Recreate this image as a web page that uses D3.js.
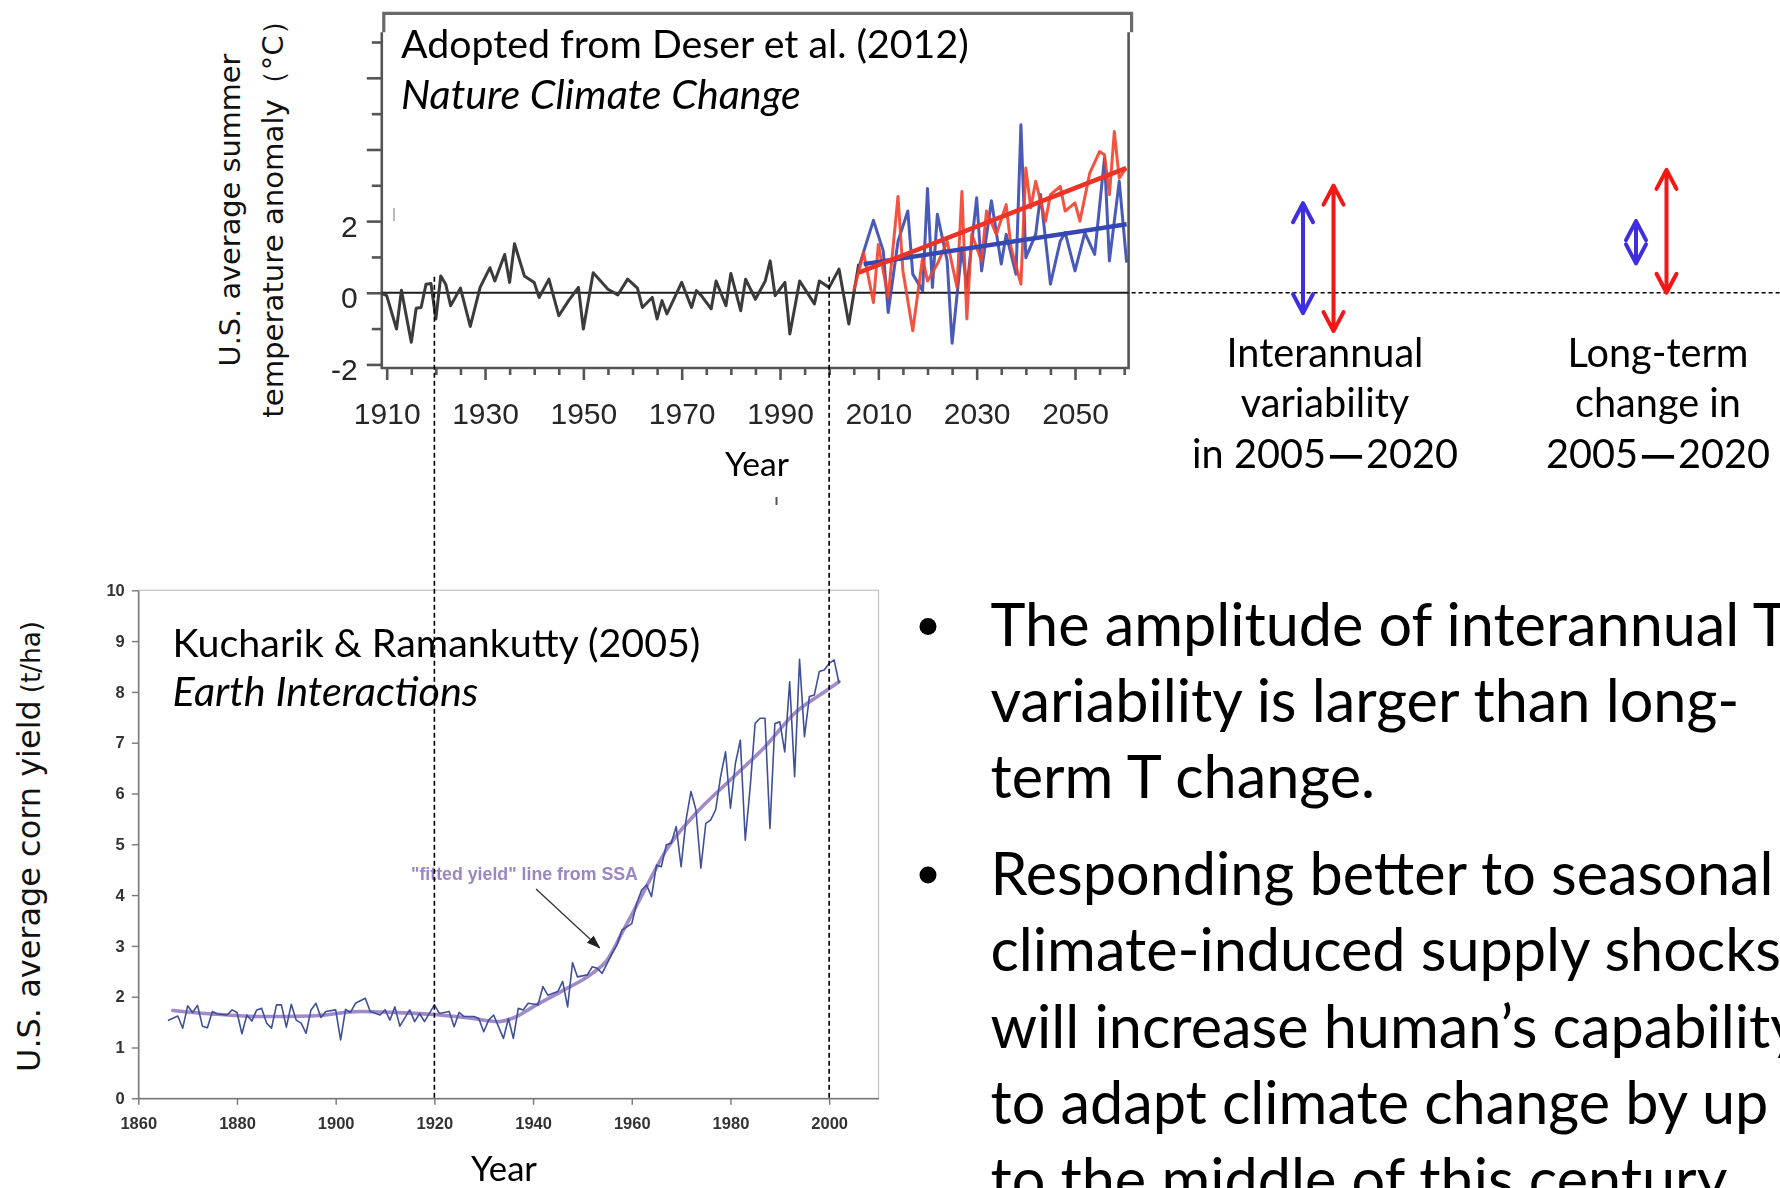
<!DOCTYPE html>
<html>
<head>
<meta charset="utf-8">
<title>Temperature variability and U.S. corn yield</title>
<script src="https://cdn.jsdelivr.net/npm/d3@7/dist/d3.min.js"></script>
<style>
  html, body { margin: 0; padding: 0; background: #ffffff; overflow: hidden; }
  svg { display: block; }
</style>
</head>
<body>
<svg id="fig" width="1780" height="1188"></svg>
<script>
// ---------- data ----------
// U.S. average summer temperature anomaly (°C): observed record
const observedTemp = [
  [1909,-0.02],[1910,-0.08],[1912,-1.01],[1913,0.07],[1915,-1.38],[1916,-0.43],[1917,-0.41],
  [1918,0.24],[1919,0.26],[1920,-0.73],[1921,0.47],[1922,0.24],[1923,-0.36],[1925,0.13],
  [1927,-0.94],[1929,0.15],[1931,0.70],[1932,0.33],[1934,1.07],[1935,0.29],[1936,1.37],
  [1938,0.47],[1940,0.29],[1941,-0.13],[1943,0.38],[1945,-0.64],[1947,-0.22],[1949,0.15],
  [1950,-1.01],[1952,0.56],[1955,0.10],[1957,-0.06],[1959,0.38],[1961,0.13],[1962,-0.41],
  [1964,-0.13],[1965,-0.73],[1966,-0.22],[1967,-0.59],[1970,0.29],[1972,-0.41],[1973,0.06],
  [1974,-0.08],[1976,-0.45],[1977,0.33],[1979,-0.36],[1980,0.54],[1982,-0.50],[1983,0.38],
  [1985,-0.18],[1987,0.33],[1988,0.89],[1989,-0.08],[1991,0.29],[1992,-1.15],[1994,0.33],
  [1997,-0.31],[1998,0.33],[2000,0.15],[2002,0.66],[2004,-0.87],[2006,0.80]
];
// two simulated members, 2005-2060
const memberBlue = [
  [2006,0.70],[2009,2.02],[2011,1.17],[2012,-0.55],[2014,1.44],[2016,2.28],[2017,0.52],
  [2019,0.06],[2020,2.91],[2021,0.15],[2022,2.19],[2024,0.89],[2025,-1.41],[2027,1.26],
  [2028,0.15],[2030,2.65],[2031,0.61],[2033,2.57],[2035,0.80],[2036,1.63],[2038,0.52],
  [2039,4.69],[2040,0.98],[2042,1.63],[2043,2.74],[2045,0.24],[2047,1.44],[2048,1.68],
  [2050,0.61],[2052,1.68],[2054,1.07],[2056,3.76],[2057,0.89],[2059,3.11],[2060.5,0.84]
];
const memberRed = [
  [2005,0.06],[2007,1.12],[2009,-0.27],[2010,1.35],[2012,-0.13],[2014,2.69],[2015,0.61],
  [2017,-1.06],[2019,0.98],[2020,0.33],[2022,0.80],[2024,1.44],[2026,0.15],[2027,2.83],
  [2028,-0.73],[2029,1.63],[2031,0.89],[2032,2.28],[2034,1.63],[2036,2.46],[2037,1.26],
  [2039,0.24],[2040,3.48],[2041,2.37],[2042,3.11],[2044,2.00],[2045,2.74],[2047,2.97],
  [2048,2.28],[2050,2.51],[2051,2.00],[2053,3.34],[2055,3.94],[2056,3.85],[2057,2.74],
  [2058,4.50],[2059,3.20],[2060.4,3.48]
];
const trendBlue = [[2007, 0.80], [2060.5, 1.91]];
const trendRed = [[2006, 0.56], [2060.4, 3.48]];
const tempTickYears = [1910, 1930, 1950, 1970, 1990, 2010, 2030, 2050];
const tempLabelValues = [-2, 0, 2];

// U.S. average corn yield (t/ha)
const cornYield = [
  [1866,1.53],[1868,1.62],[1869,1.38],[1870,1.82],[1871,1.69],[1872,1.83],[1873,1.42],
  [1874,1.39],[1875,1.71],[1876,1.66],[1878,1.64],[1879,1.74],[1880,1.69],[1881,1.27],
  [1882,1.64],[1883,1.52],[1884,1.74],[1885,1.77],[1886,1.48],[1887,1.38],[1888,1.84],
  [1889,1.84],[1890,1.40],[1891,1.85],[1892,1.54],[1893,1.48],[1894,1.28],[1895,1.74],
  [1896,1.87],[1897,1.59],[1898,1.71],[1900,1.74],[1901,1.15],[1902,1.75],[1903,1.69],
  [1904,1.87],[1906,1.97],[1907,1.71],[1909,1.64],[1910,1.74],[1911,1.54],[1912,1.80],
  [1913,1.42],[1915,1.74],[1916,1.51],[1917,1.67],[1918,1.51],[1920,1.84],[1921,1.67],
  [1923,1.71],[1924,1.41],[1925,1.69],[1926,1.61],[1928,1.61],[1929,1.57],[1930,1.31],
  [1931,1.54],[1932,1.64],[1934,1.18],[1935,1.57],[1936,1.18],[1937,1.77],[1938,1.74],
  [1939,1.87],[1941,1.84],[1942,2.20],[1943,2.03],[1945,2.10],[1946,2.30],[1947,1.80],
  [1948,2.67],[1949,2.39],[1951,2.43],[1952,2.59],[1953,2.56],[1954,2.46],[1956,2.85],
  [1957,3.02],[1958,3.31],[1960,3.44],[1961,3.84],[1962,4.10],[1963,4.20],[1964,3.97],
  [1965,4.59],[1966,4.56],[1967,4.99],[1968,5.02],[1969,5.35],[1970,4.56],[1971,5.48],
  [1972,6.04],[1973,5.68],[1974,4.53],[1975,5.41],[1976,5.48],[1977,5.68],[1978,6.33],
  [1979,6.82],[1980,5.71],[1981,6.59],[1982,7.05],[1983,5.08],[1984,6.13],[1985,7.38],
  [1986,7.48],[1987,7.48],[1988,5.31],[1989,7.38],[1990,7.41],[1991,6.82],[1992,8.20],
  [1993,6.33],[1994,8.64],[1995,7.12],[1996,7.91],[1997,7.94],[1998,8.40],[1999,8.43],
  [2000,8.56],[2001,8.63],[2002,8.17]
];
// "fitted yield" line from singular spectrum analysis
const fittedYield = [
  [1867,1.73],[1875,1.66],[1885,1.61],[1895,1.62],[1905,1.71],[1912,1.69],[1920,1.65],
  [1927,1.58],[1933,1.51],[1936,1.58],[1940,1.80],[1946,2.12],[1952,2.46],[1955,2.72],
  [1958,3.25],[1961,3.80],[1964,4.36],[1967,4.89],[1973,5.61],[1980,6.27],[1987,6.92],
  [1993,7.58],[1999,8.00],[2002,8.20]
];
const yieldTickYears = [1860, 1880, 1900, 1920, 1940, 1960, 1980, 2000];
const yieldTickValues = [0, 1, 2, 3, 4, 5, 6, 7, 8, 9, 10];
// pointer from the SSA label to the fitted curve: [year, t/ha]
const ssaPointer = [[1940.6, 4.12], [1953.5, 2.96]];

// years linking the two panels
const linkYears = [1920, 2000];

// temperature spread in 2005-2020 (°C), per panel: [blue member, red member]
const spreadTitles = [
  ["Interannual", "variability", ["in 2005", "2020"]],
  ["Long-term", "change in", ["2005", "2020"]]
];
const spreadLow  = [[-0.57, -1.07], [0.82, 0.00]];
const spreadHigh = [[ 2.50,  2.99], [2.00, 3.43]];

const bulletLines = [
  ["The amplitude of interannual T", "variability is larger than long-", "term T change."],
  ["Responding better to seasonal", "climate-induced supply shocks",
   "will increase human\u2019s capability", "to adapt climate change by up",
   "to the middle of this century."]
];

// ---------- helpers ----------
const svg = d3.select("#fig");
const SANS = "Lato, 'Open Sans', sans-serif";
const VERD = "'DejaVu Sans', Verdana, sans-serif";
const CJK = "'Noto Sans CJK SC', 'Noto Sans CJK JP', sans-serif";

function fitTo(sel, width) {
  const w = sel.node().getComputedTextLength();
  const fs = parseFloat(sel.attr("font-size"));
  const n = fs * width / w;
  sel.attr("font-size", n);
  return n;
}

const defs = svg.append("defs");
defs.append("filter").attr("id", "soft")
  .attr("x", "-5%").attr("y", "-5%").attr("width", "110%").attr("height", "110%")
  .append("feGaussianBlur").attr("stdDeviation", 0.75);
defs.append("marker").attr("id", "tip")
  .attr("viewBox", "0 0 14 10").attr("refX", 13).attr("refY", 5)
  .attr("markerWidth", 14).attr("markerHeight", 10)
  .attr("markerUnits", "userSpaceOnUse").attr("orient", "auto")
  .append("path").attr("d", "M0,0 L14,5 L0,10 Z").attr("fill", "#222");

// ---------- upper panel: temperature anomaly ----------
const topX = d3.scaleLinear().domain([1910, 2050]).range([386.7, 1075]);
const topY = d3.scaleLinear().domain([-2.1, 7]).range([368, 42]);

const upper = svg.append("g").attr("filter", "url(#soft)");
const xL = topX(1909), xR = topX(2060.9);
const yFrame = topY(7.8), yStep = topY(7.27), yBase = topY(-2.1);

upper.append("path")
  .attr("d", `M${xL + 2},${yStep} V${yFrame} H${xR + 3} V${yStep}`)
  .attr("fill", "none").attr("stroke", "#6a6a6a").attr("stroke-width", 3.2);
upper.append("path")
  .attr("d", `M${xL},${yStep} V${yBase} H${xR} V${yStep}`)
  .attr("fill", "none").attr("stroke", "#555").attr("stroke-width", 2.6);

// x axis: minor ticks every 5 years, labelled ticks every 20
const minorYears = d3.range(1910, 2061, 5).filter(y => !tempTickYears.includes(y));
upper.append("g").attr("transform", `translate(0,${yBase})`)
  .call(d3.axisBottom(topX).tickValues(minorYears).tickSize(7).tickFormat(""))
  .call(g => g.select(".domain").remove());
upper.append("g").attr("transform", `translate(0,${yBase})`)
  .call(d3.axisBottom(topX).tickValues(tempTickYears).tickSize(12).tickPadding(23).tickFormat(d3.format("d")))
  .call(g => g.select(".domain").remove());

// y axis: long ticks on even values, short on odd
upper.append("g").attr("transform", `translate(${xL},0)`)
  .call(d3.axisLeft(topY).tickValues([-1, 1, 3, 5, 7]).tickSize(10).tickFormat(""))
  .call(g => g.select(".domain").remove());
upper.append("g").attr("transform", `translate(${xL},0)`)
  .call(d3.axisLeft(topY).tickValues([-2, 0, 2, 4, 6]).tickSize(15).tickPadding(9)
    .tickFormat(d => tempLabelValues.includes(d) ? String(d) : ""))
  .call(g => g.select(".domain").remove())
  .call(g => g.selectAll("text").attr("dy", "0.5em"));

upper.selectAll(".tick line").attr("stroke", "#555").attr("stroke-width", 2.6);
upper.selectAll(".tick text")
  .attr("font-family", "'Liberation Sans Narrow', 'Arial Narrow', 'Liberation Sans', sans-serif")
  .attr("font-size", 30).attr("fill", "#262626");

// zero line
upper.append("line")
  .attr("x1", xL).attr("x2", xR).attr("y1", topY(0)).attr("y2", topY(0))
  .attr("stroke", "#1a1a1a").attr("stroke-width", 2.2);

const tLine = d3.line().x(d => topX(d[0])).y(d => topY(d[1]));
upper.append("path").datum(observedTemp).attr("d", tLine)
  .attr("fill", "none").attr("stroke", "#3a3a3a").attr("stroke-width", 3).attr("stroke-linejoin", "round");
upper.append("path").datum(memberBlue).attr("d", tLine)
  .attr("fill", "none").attr("stroke", "#3a4cb2").attr("stroke-width", 3).attr("stroke-linejoin", "round").attr("opacity", 0.92);
upper.append("path").datum(memberRed).attr("d", tLine)
  .attr("fill", "none").attr("stroke", "#f2412c").attr("stroke-width", 3).attr("stroke-linejoin", "round").attr("opacity", 0.9);
upper.append("path").datum(trendBlue).attr("d", tLine)
  .attr("fill", "none").attr("stroke", "#3446b0").attr("stroke-width", 4.5);
upper.append("path").datum(trendRed).attr("d", tLine)
  .attr("fill", "none").attr("stroke", "#ef3326").attr("stroke-width", 4.5);

// stray specks in the panel
upper.append("path").attr("d", "M394,208 V221").attr("stroke", "#bbb").attr("stroke-width", 2);
svg.append("path").attr("d", "M776.5,497 V505").attr("stroke", "#555").attr("stroke-width", 2);

// dashed zero reference carried across to the right-hand sketch
svg.append("line")
  .attr("x1", xR + 3).attr("x2", 1780).attr("y1", topY(0)).attr("y2", topY(0))
  .attr("stroke", "#000").attr("stroke-width", 1.4).attr("stroke-dasharray", "4,3");

// source text
const src1 = svg.append("text").attr("x", 401).attr("y", 58)
  .attr("font-family", SANS).attr("font-size", 40).attr("fill", "#000")
  .text("Adopted from Deser et al. (2012)");
fitTo(src1, 568);
const src2 = svg.append("text").attr("x", 401).attr("y", 109)
  .attr("font-family", SANS).attr("font-style", "italic").attr("font-size", 40).attr("fill", "#000")
  .text("Nature Climate Change");
fitTo(src2, 400);

// axis titles
const ty1 = svg.append("text").attr("transform", "translate(240,210) rotate(-90)")
  .attr("text-anchor", "middle").attr("font-family", VERD).attr("font-size", 29).attr("fill", "#111")
  .text("U.S. average summer");
fitTo(ty1, 313);
const ty2 = svg.append("text").attr("transform", "translate(283,212) rotate(-90)")
  .attr("text-anchor", "middle").attr("font-family", VERD).attr("font-size", 29).attr("fill", "#111")
  .text("temperature anomaly\uFF08\u00B0C\uFF09");
fitTo(ty2, 412);

const yr1 = svg.append("text").attr("x", 757).attr("y", 476).attr("text-anchor", "middle")
  .attr("font-family", SANS).attr("font-size", 32).attr("fill", "#000").text("Year");
fitTo(yr1, 64);

// ---------- lower panel: corn yield ----------
const botX = d3.scaleLinear().domain([1860, 2010]).range([138.3, 878.5]);
const botY = d3.scaleLinear().domain([0, 10]).range([1098.3, 590.3]);

const lower = svg.append("g");
lower.append("rect")
  .attr("x", botX(1860)).attr("y", botY(10))
  .attr("width", botX(2010) - botX(1860)).attr("height", botY(0) - botY(10))
  .attr("fill", "none").attr("stroke", "#c9c9c9").attr("stroke-width", 1.4);

lower.append("g").attr("transform", `translate(${botX(1860)},0)`)
  .call(d3.axisLeft(botY).tickValues(yieldTickValues).tickSize(6.5).tickPadding(7).tickSizeOuter(0));
lower.append("g").attr("transform", `translate(0,${botY(0)})`)
  .call(d3.axisBottom(botX).tickValues(yieldTickYears).tickSize(6.5).tickPadding(12).tickSizeOuter(0).tickFormat(d3.format("d")));
lower.selectAll(".domain, .tick line").attr("stroke", "#777").attr("stroke-width", 1.4);
lower.selectAll(".tick text")
  .attr("font-family", "'Liberation Sans', Arial, sans-serif").attr("font-weight", "bold")
  .attr("font-size", 16.5).attr("fill", "#333");

const yLine = d3.line().x(d => botX(d[0])).y(d => botY(d[1]));
lower.append("path").datum(fittedYield).attr("d", yLine.curve(d3.curveMonotoneX))
  .attr("fill", "none").attr("stroke", "#a08ac9").attr("stroke-width", 3.6).attr("stroke-linecap", "round");
lower.append("path").datum(cornYield).attr("d", yLine.curve(d3.curveLinear))
  .attr("fill", "none").attr("stroke", "#3f5099").attr("stroke-width", 1.6).attr("stroke-linejoin", "round");

const ssa = lower.append("text").attr("x", 411).attr("y", 880)
  .attr("font-family", "'Liberation Sans', Arial, sans-serif").attr("font-weight", "bold")
  .attr("font-size", 15).attr("fill", "#9a86c4").text("\"fitted yield\" line from SSA");
fitTo(ssa, 227);
lower.append("line")
  .attr("x1", botX(ssaPointer[0][0])).attr("y1", botY(ssaPointer[0][1]))
  .attr("x2", botX(ssaPointer[1][0])).attr("y2", botY(ssaPointer[1][1]))
  .attr("stroke", "#333").attr("stroke-width", 1.3).attr("marker-end", "url(#tip)");

const k1 = svg.append("text").attr("x", 172.5).attr("y", 657)
  .attr("font-family", SANS).attr("font-size", 40).attr("fill", "#000")
  .text("Kucharik & Ramankutty (2005)");
fitTo(k1, 528);
const k2 = svg.append("text").attr("x", 172.5).attr("y", 706)
  .attr("font-family", SANS).attr("font-style", "italic").attr("font-size", 40).attr("fill", "#000")
  .text("Earth Interactions");
fitTo(k2, 306);

// y title of the lower panel: main words sized to their span, unit in brackets after
const ty3 = svg.append("text").attr("transform", "translate(40,1072) rotate(-90)")
  .attr("font-family", VERD).attr("font-size", 29).attr("fill", "#111")
  .text("U.S. average corn yield");
const fsY3 = fitTo(ty3, 372);
ty3.append("tspan").attr("dx", 7).attr("font-size", fsY3 * 0.82).text("(t/ha)");

const yr2 = svg.append("text").attr("x", 504).attr("y", 1181).attr("text-anchor", "middle")
  .attr("font-family", SANS).attr("font-size", 32).attr("fill", "#000").text("Year");
fitTo(yr2, 66);

// dashed links between the panels at the same years
svg.selectAll("line.link").data(linkYears).join("line").attr("class", "link")
  .attr("x1", d => botX(d)).attr("x2", d => botX(d))
  .attr("y1", topY(0.45)).attr("y2", botY(0))
  .attr("stroke", "#000").attr("stroke-width", 1.6).attr("stroke-dasharray", "5,3");

// ---------- right-hand sketch: spread arrows ----------
const panelCx = [1325, 1658];
const seriesDx = [-22, 8.5];
const seriesColor = ["#3d2ee0", "#f51616"];
spreadTitles.forEach((lines, p) => {
  [0, 1].forEach(s => {
    const x = panelCx[p] + seriesDx[s];
    const yHi = topY(spreadHigh[p][s]), yLo = topY(spreadLow[p][s]);
    const head = 19, half = 10;
    svg.append("path")
      .attr("d", `M${x},${yHi} V${yLo}` +
        `M${x - half},${yHi + head} L${x},${yHi} L${x + half},${yHi + head}` +
        `M${x - half},${yLo - head} L${x},${yLo} L${x + half},${yLo - head}`)
      .attr("fill", "none").attr("stroke", seriesColor[s]).attr("stroke-width", 4)
      .attr("stroke-linecap", "round").attr("stroke-linejoin", "round");
  });
});
const panelBase = [366.7, 416.7, 468.3];
const probe = svg.append("text").attr("font-family", SANS).attr("font-size", 40).text(spreadTitles[0][0]);
const fsPanel = fitTo(probe, 197);
probe.remove();
spreadTitles.forEach((lines, p) => {
  lines.forEach((t, i) => {
    const txt = svg.append("text").attr("x", panelCx[p]).attr("y", panelBase[i]).attr("text-anchor", "middle")
      .attr("font-family", SANS).attr("font-size", fsPanel).attr("fill", "#000");
    if (Array.isArray(t)) {
      // year range joined by a full-width dash
      txt.append("tspan").text(t[0]);
      txt.append("tspan").attr("font-family", CJK).attr("font-weight", "bold").attr("dx", 2).text("\u2014");
      txt.append("tspan").attr("dx", 2).text(t[1]);
    } else {
      txt.text(t);
    }
  });
});

// ---------- bullet text ----------
const bulletBase = [[646, 722, 798], [894.5, 971, 1047.5, 1124, 1200.5]];
const probe2 = svg.append("text").attr("font-family", SANS).attr("font-size", 60).text(bulletLines[0][1]);
const fsBullet = fitTo(probe2, 749);
probe2.remove();
bulletLines.forEach((lines, b) => {
  svg.append("circle").attr("cx", 928).attr("cy", bulletBase[b][0] - 19.5).attr("r", 8.5).attr("fill", "#000");
  lines.forEach((t, i) => {
    svg.append("text").attr("x", 990.5).attr("y", bulletBase[b][i])
      .attr("font-family", SANS).attr("font-size", fsBullet).attr("fill", "#000").text(t);
  });
});
</script>
</body>
</html>
